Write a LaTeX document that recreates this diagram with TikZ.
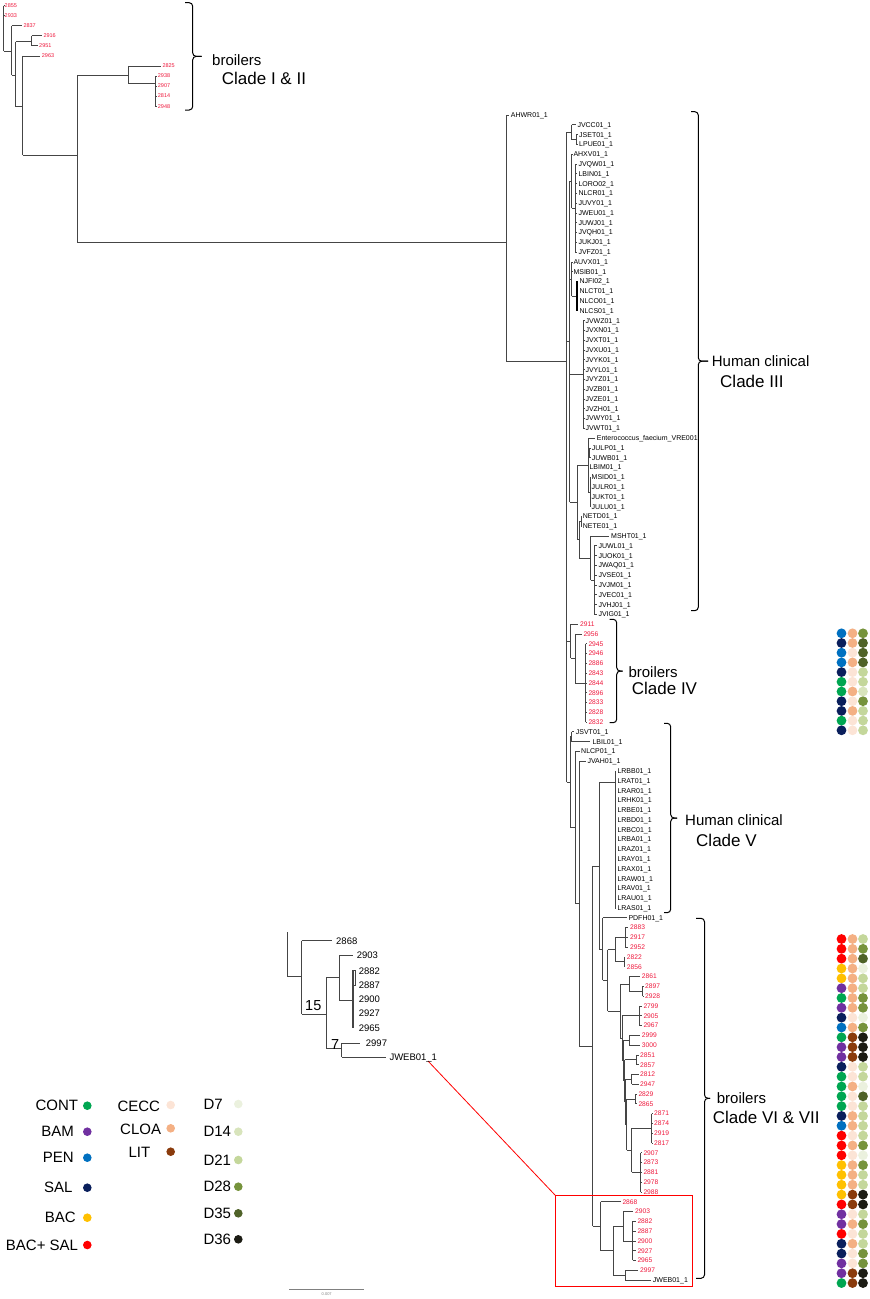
\documentclass[tikz,border=0pt]{standalone}
\usepackage{fontspec}
\setmainfont{Liberation Sans}
\definecolor{labred}{RGB}{238,24,60}
\definecolor{trc}{HTML}{454545}
\definecolor{cCONT}{HTML}{00A651}
\definecolor{cBAM}{HTML}{7030A0}
\definecolor{cPEN}{HTML}{0070C0}
\definecolor{cSAL}{HTML}{0A1F5C}
\definecolor{cBAC}{HTML}{FFC000}
\definecolor{cRED}{HTML}{FF0000}
\definecolor{cCECC}{HTML}{FCE4D6}
\definecolor{cCLOA}{HTML}{F4B084}
\definecolor{cLIT}{HTML}{8A3B0C}
\definecolor{cDa}{HTML}{EBF1DE}
\definecolor{cDb}{HTML}{D8E4BC}
\definecolor{cDc}{HTML}{C4D79B}
\definecolor{cDd}{HTML}{76933C}
\definecolor{cDe}{HTML}{4F6228}
\definecolor{cDf}{HTML}{1C1C14}
\newcommand\fsz[1]{\fontsize{#1}{#1}\selectfont}
\newcommand\comb[4]{\draw[tr] (#1,{yl(#2)}) -- (#1,{yl(#3)});
  \foreach \j in {#2,...,#3}{\draw[tr] (#1,{yl(\j)}) -- (#4,{yl(\j)});}}
\newcommand\blabs[3]{\foreach \t [count=\k from #2] in {#3} {\node[bk] at (#1,{yl(\k)}) {\t\_1};}}
\newcommand\rlabs[3]{\foreach \t [count=\k from #2] in {#3} {\node[rd] at (#1,{yl(\k)}) {\t};}}
% bracket: x, top, bottom, hook end x, tick end x
\newcommand\brk[5]{\draw[brkst] (#4,#2) -- (#1,#2) -- (#1,{(#2+#3)/2}) -- (#5,{(#2+#3)/2});
  \draw[brkst] (#4,#3) -- (#1,#3) -- (#1,{(#2+#3)/2}) -- (#5,{(#2+#3)/2});}
\begin{document}
\begin{tikzpicture}[x=1pt,y=-1pt,
  declare function={yl(\i)=115+9.79*\i; tl(\i)=5.7+10.03*\i;},
  tr/.style={draw=trc,line width=0.65pt},
  bk/.style={font=\fsz{7}, anchor=base west, inner sep=0pt, yshift=-2.5pt},
  rd/.style={font=\fsz{6.7}, text=labred, anchor=base west, inner sep=0pt, yshift=-2.4pt},
  rs/.style={font=\fsz{5.5}, text=labred, anchor=base west, inner sep=0pt, yshift=-2pt},
  cl1/.style={font=\fsz{15}, anchor=base west, inner sep=0pt},
  cl2/.style={font=\fsz{17}, anchor=base west, inner sep=0pt},
  brkst/.style={draw=black, line width=1pt, rounded corners=3.5pt},
  lg/.style={font=\fsz{15}, inner sep=0pt},
  ins/.style={draw=trc, line width=0.9pt},
  il/.style={font=\fsz{9.5}, anchor=base west, inner sep=0pt, yshift=-3.4pt},
  dot/.style={radius=4.9}
]
\useasboundingbox (0,0) rectangle (870,1299);

% ---------------- top-left tree (Clade I & II)
\draw[tr] (3.5,{tl(0)}) -- (3.5,51);
\draw[tr] (3.5,{tl(0)}) -- (4,{tl(0)});
\draw[tr] (3.5,{tl(1)}) -- (4,{tl(1)});
\draw[tr] (3.5,51) -- (11.7,51);
\draw[tr] (11.7,{tl(2)}) -- (11.7,75);
\draw[tr] (11.7,{tl(2)}) -- (21.7,{tl(2)});
\draw[tr] (11.7,75) -- (15.7,75);
\draw[tr] (15.7,41.7) -- (15.7,106.7);
\draw[tr] (15.7,41.7) -- (31.7,41.7);
\draw[tr] (31.7,{tl(3)}) -- (31.7,{tl(4)});
\draw[tr] (31.7,{tl(3)}) -- (41.7,{tl(3)});
\draw[tr] (31.7,{tl(4)}) -- (37.7,{tl(4)});
\draw[tr] (15.7,106.7) -- (22.7,106.7);
\draw[tr] (22.7,{tl(5)}) -- (22.7,155);
\draw[tr] (22.7,{tl(5)}) -- (40,{tl(5)});
\draw[tr] (22.7,155) -- (77.3,155);
\draw[tr] (77.3,75) -- (77.3,242);
\draw[tr] (77.3,75) -- (128.3,75);
\draw[tr] (128.3,{tl(6)}) -- (128.3,83.3);
\draw[tr] (128.3,{tl(6)}) -- (161,{tl(6)});
\draw[tr] (128.3,83.3) -- (155.3,83.3);
\draw[tr] (155.3,{tl(7)}) -- (155.3,{tl(10)});
\foreach \j in {7,...,10} {\draw[tr] (155.3,{tl(\j)}) -- (156.5,{tl(\j)});}
\node[rs] at (4.5,{tl(0)}) {2855};
\node[rs] at (4.5,{tl(1)}) {2933};
\node[rs] at (23.3,{tl(2)}) {2837};
\node[rs] at (43.3,{tl(3)}) {2916};
\node[rs] at (39,{tl(4)}) {2951};
\node[rs] at (41.7,{tl(5)}) {2963};
\node[rs] at (162.3,{tl(6)}) {2825};
\foreach \t [count=\k from 7] in {2938,2907,2814,2948} {\node[rs] at (157.7,{tl(\k)}) {\t};}
\brk{192.7}{2.7}{110}{185}{201.7}
\node[cl1] at (212,65) {broilers};
\node[cl2] at (221.7,84) {Clade I \& II};

% ---------------- root / backbone
\draw[tr] (506,{yl(0)}) -- (506,361);
\draw[tr] (506,{yl(0)}) -- (509,{yl(0)});
\node[bk] at (510.7,{yl(0)}) {AHWR01\_1};
\draw[tr] (77.3,242) -- (506,242);
\draw[tr] (506,361) -- (566.7,361);
\draw[tr] (566.7,132.1) -- (566.7,782.1);

% ---------------- Clade III
\draw[tr] (566.7,132.1) -- (571.7,132.1);
\draw[tr] (571.7,{yl(1)}) -- (571.7,139.5);
\draw[tr] (571.7,{yl(1)}) -- (576,{yl(1)});
\draw[tr] (571.7,139.5) -- (576,139.5);
\comb{576}{2}{3}{577.5}
\node[bk] at (577.3,{yl(1)}) {JVCC01\_1};
\blabs{579}{2}{JSET01,LPUE01}
\draw[tr] (569.5,181.1) -- (569.5,502.3);
\draw[tr] (566.7,341.7) -- (569.5,341.7);
\draw[tr] (569.5,181.1) -- (571.7,181.1);
\draw[tr] (571.7,{yl(4)}) -- (571.7,208);
\draw[tr] (571.7,{yl(4)}) -- (572.5,{yl(4)});
\draw[tr] (571.7,208) -- (575,208);
\comb{575}{5}{14}{577}
\node[bk] at (573.3,{yl(4)}) {AHXV01\_1};
\blabs{578.3}{5}{JVQW01,LBIN01,LORO02,NLCR01,JUVY01,JWEU01,JUWJ01,JVQH01,JUKJ01,JVFZ01}
\draw[tr] (569.5,279) -- (571.7,279);
\draw[tr] (571.7,{yl(15)}) -- (571.7,296.1);
\draw[tr] (571.7,{yl(15)}) -- (572.5,{yl(15)});
\draw[tr] (571.7,{yl(16)}) -- (572.5,{yl(16)});
\draw[tr] (571.7,296.1) -- (577,296.1);
\begin{scope}[tr/.style={draw=black,line width=1.1pt}]
\comb{577}{17}{20}{578}
\end{scope}
\blabs{573.3}{15}{AUVX01,MSIB01}
\blabs{579.3}{17}{NJFI02,NLCT01,NLCO01,NLCS01}
\draw[tr] (569.5,374.4) -- (583.3,374.4);
\comb{583.3}{21}{32}{584.5}
\blabs{585.3}{21}{JVWZ01,JVXN01,JVXT01,JVXU01,JVYK01,JVYL01,JVYZ01,JVZB01,JVZE01,JVZH01,JVWY01,JVWT01}
\draw[tr] (569.5,502.3) -- (577,502.3);
\draw[tr] (577,465) -- (577,539.7);
\draw[tr] (577,465) -- (588.3,465);
\draw[tr] (588.3,{yl(33)}) -- (588.3,491.9);
\draw[tr] (588.3,{yl(33)}) -- (595,{yl(33)});
\draw[tr] (588.3,452.8) -- (589.5,452.8);
\comb{589.5}{34}{35}{590.5}
\draw[tr] (588.3,{yl(36)}) -- (588.8,{yl(36)});
\draw[tr] (588.3,491.9) -- (590,491.9);
\comb{590}{37}{40}{590.5}
\node[bk] at (596.7,{yl(33)}) {Enterococcus\_faecium\_VRE001};
\blabs{591.7}{34}{JULP01,JUWB01}
\node[bk] at (589.3,{yl(36)}) {LBIM01\_1};
\blabs{591.5}{37}{MSID01,JULR01,JUKT01,JULU01}
\draw[tr] (577,539.7) -- (579,539.7);
\draw[tr] (579,521.3) -- (579,558);
\draw[tr] (579,521.3) -- (581,521.3);
\comb{581}{41}{42}{581.5}
\blabs{582.7}{41}{NETD01,NETE01}
\draw[tr] (579,558) -- (590.7,558);
\draw[tr] (590.7,{yl(43)}) -- (590.7,580);
\draw[tr] (590.7,{yl(43)}) -- (609,{yl(43)});
\draw[tr] (590.7,580) -- (594.3,580);
\comb{594.3}{44}{51}{596.5}
\node[bk] at (611,{yl(43)}) {MSHT01\_1};
\blabs{598.3}{44}{JUWL01,JUOK01,JWAQ01,JVSE01,JVJM01,JVEC01,JVHJ01,JVIG01}
\brk{698.3}{111.7}{610.7}{691}{708}
\node[cl1] at (711.7,366) {Human clinical};
\node[cl2] at (720,387) {Clade III};

% ---------------- Clade IV
\draw[tr] (566.7,641.3) -- (570.7,641.3);
\draw[tr] (570.7,{yl(52)}) -- (570.7,658.4);
\draw[tr] (570.7,{yl(52)}) -- (578,{yl(52)});
\draw[tr] (570.7,658.4) -- (575,658.4);
\draw[tr] (575,{yl(53)}) -- (575,682.9);
\draw[tr] (575,{yl(53)}) -- (581.5,{yl(53)});
\draw[tr] (575,682.9) -- (585.7,682.9);
\comb{585.7}{54}{62}{586.5}
\node[rd] at (580,{yl(52)}) {2911};
\node[rd] at (583.3,{yl(53)}) {2956};
\rlabs{588.3}{54}{2945,2946,2886,2843,2844,2896,2833,2828,2832}
\brk{616.7}{619.3}{722.7}{609.5}{622.5}
\node[cl1] at (628.3,677) {broilers};
\node[cl2] at (631.7,694) {Clade IV};

% ---------------- Clade V and lower backbone
\draw[tr] (566.7,782.1) -- (570,782.1);
\draw[tr] (570,736.7) -- (570,827.5);
\draw[tr] (570,736.7) -- (571.5,736.7);
\draw[tr] (571.5,{yl(63)}) -- (571.5,{yl(64)});
\draw[tr] (571.5,{yl(63)}) -- (574,{yl(63)});
\draw[tr] (571.5,{yl(64)}) -- (590,{yl(64)});
\draw[tr] (570,827.5) -- (575,827.5);
\draw[tr] (575,{yl(65)}) -- (575,903.6);
\draw[tr] (575,{yl(65)}) -- (579.5,{yl(65)});
\draw[tr] (575,903.6) -- (579.3,903.6);
\draw[tr] (579.3,{yl(66)}) -- (579.3,1046);
\draw[tr] (579.3,{yl(66)}) -- (585.5,{yl(66)});
\draw[tr] (579.3,1046) -- (592.7,1046);
\draw[tr] (592.7,865.9) -- (592.7,1226.1);
\draw[tr] (592.7,865.9) -- (599.3,865.9);
\draw[tr] (599.3,782.7) -- (599.3,949);
\draw[tr] (599.3,782.7) -- (615,782.7);
\comb{615}{67}{81}{616}
\node[bk] at (575.7,{yl(63)}) {JSVT01\_1};
\node[bk] at (592.3,{yl(64)}) {LBIL01\_1};
\node[bk] at (581,{yl(65)}) {NLCP01\_1};
\node[bk] at (587.3,{yl(66)}) {JVAH01\_1};
\blabs{617.3}{67}{LRBB01,LRAT01,LRAR01,LRHK01,LRBE01,LRBD01,LRBC01,LRBA01,LRAZ01,LRAY01,LRAX01,LRAW01,LRAV01,LRAU01,LRAS01}
\brk{670.7}{723.3}{912.7}{664}{677}
\node[cl1] at (685,825) {Human clinical};
\node[cl2] at (696,846.7) {Clade V};

% ---------------- Clade VI & VII
\draw[tr] (599.3,949) -- (602.7,949);
\draw[tr] (602.7,{yl(82)}) -- (602.7,980.3);
\draw[tr] (602.7,{yl(82)}) -- (626.5,{yl(82)});
\node[bk] at (628.3,{yl(82)}) {PDFH01\_1};
\draw[tr] (602.7,980.3) -- (607.5,980.3);
\draw[tr] (607.5,949.6) -- (607.5,1011);
\draw[tr] (607.5,949.6) -- (615,949.6);
\draw[tr] (615,937.4) -- (615,961.8);
\draw[tr] (615,937.4) -- (625,937.4);
\comb{625}{83}{85}{628}
\draw[tr] (615,961.8) -- (624.3,961.8);
\comb{624.3}{86}{87}{625}
\draw[tr] (607.5,1011) -- (620,1011);
\draw[tr] (620,983.9) -- (620,1038.1);
\draw[tr] (620,983.9) -- (629.3,983.9);
\draw[tr] (629.3,{yl(88)}) -- (629.3,991.2);
\draw[tr] (629.3,{yl(88)}) -- (640,{yl(88)});
\draw[tr] (629.3,991.2) -- (642.7,991.2);
\comb{642.7}{89}{90}{643.3}
\draw[tr] (620,1038.1) -- (622,1038.1);
\draw[tr] (622,1015.7) -- (622,1060.5);
\draw[tr] (622,1015.7) -- (639.3,1015.7);
\comb{639.3}{91}{93}{641.5}
\draw[tr] (622,1060.5) -- (623.5,1060.5);
\draw[tr] (623.5,1040.2) -- (623.5,1080.8);
\draw[tr] (623.5,1040.2) -- (629.3,1040.2);
\comb{629.3}{94}{95}{640}
\draw[tr] (623.5,1080.8) -- (624.5,1080.8);
\draw[tr] (624.5,1059.7) -- (624.5,1102);
\draw[tr] (624.5,1059.7) -- (636,1059.7);
\comb{636}{96}{97}{638.5}
\draw[tr] (624.5,1102) -- (625.5,1102);
\draw[tr] (625.5,1079.3) -- (625.5,1124.6);
\draw[tr] (625.5,1079.3) -- (631.7,1079.3);
\comb{631.7}{98}{99}{638.5}
\draw[tr] (625.5,1124.6) -- (626.5,1124.6);
\draw[tr] (626.5,1098.9) -- (626.5,1150.3);
\draw[tr] (626.5,1098.9) -- (635,1098.9);
\comb{635}{100}{101}{636.7}
\draw[tr] (626.5,1150.3) -- (631.7,1150.3);
\draw[tr] (631.7,1128.3) -- (631.7,1172.3);
\draw[tr] (631.7,1128.3) -- (651.7,1128.3);
\comb{651.7}{102}{105}{652.5}
\draw[tr] (631.7,1172.3) -- (640.7,1172.3);
\comb{640.7}{106}{110}{641.5}
\draw[tr] (592.7,1226.1) -- (600.7,1226.1);
\draw[tr] (600.7,{yl(111)}) -- (600.7,1250.5);
\draw[tr] (600.7,{yl(111)}) -- (620.5,{yl(111)});
\draw[tr] (600.7,1250.5) -- (613.3,1250.5);
\draw[tr] (613.3,1226.2) -- (613.3,1275.1);
\draw[tr] (613.3,1226.2) -- (623.3,1226.2);
\draw[tr] (623.3,{yl(112)}) -- (623.3,1240.9);
\draw[tr] (623.3,{yl(112)}) -- (633,{yl(112)});
\draw[tr] (623.3,1240.9) -- (632.7,1240.9);
\comb{632.7}{113}{117}{635.5}
\draw[tr] (613.3,1275.1) -- (625,1275.1);
\draw[tr] (625,{yl(118)}) -- (625,{yl(119)});
\draw[tr] (625,{yl(118)}) -- (638,{yl(118)});
\draw[tr] (625,{yl(119)}) -- (650.5,{yl(119)});
\rlabs{630}{83}{2883,2917,2952}
\rlabs{626.7}{86}{2822,2856}
\node[rd] at (641.7,{yl(88)}) {2861};
\rlabs{645}{89}{2897,2928}
\rlabs{643.3}{91}{2799,2905,2967}
\rlabs{641.7}{94}{2999,3000}
\rlabs{640}{96}{2851,2857,2812,2947}
\rlabs{638.3}{100}{2829,2865}
\rlabs{654}{102}{2871,2874,2919,2817}
\rlabs{643.3}{106}{2907,2873,2881,2978,2988}
\node[rd] at (622.3,{yl(111)}) {2868};
\node[rd] at (635,{yl(112)}) {2903};
\rlabs{637.3}{113}{2882,2887,2900,2927,2965}
\node[rd] at (640,{yl(118)}) {2997};
\node[bk] at (652.7,{yl(119)}) {JWEB01\_1};
\brk{704.5}{918.3}{1278.3}{696}{710}
\node[cl1] at (716.7,1103.3) {broilers};
\node[cl2] at (712.7,1123.3) {Clade VI \& VII};

% ---------------- red box and zoom line
\draw[red, line width=0.8pt] (555,1195) rectangle (692.7,1286.7);
\coordinate (boxNW) at (555,1195);
\coordinate (insEnd) at (428,1061);
\draw[red, line width=0.8pt] (insEnd) -- (boxNW);

% ---------------- inset
\draw[ins] (287.7,932.3) -- (287.7,976.7) -- (301.7,976.7);
\draw[ins] (301.7,940.7) -- (301.7,1014.3);
\draw[ins] (301.7,940.7) -- (331.7,940.7);
\draw[ins] (301.7,1014.3) -- (326,1014.3);
\draw[ins] (326,977.3) -- (326,1048.3);
\draw[ins] (326,977.3) -- (339,977.3);
\draw[ins] (339,955.3) -- (339,1000);
\draw[ins] (339,955.3) -- (353.3,955.3);
\draw[ins] (339,1000) -- (352.7,1000);
\draw[draw=trc, line width=1.6pt] (352.7,970) -- (352.7,1028);
\draw[ins] (352.7,970.7) -- (355.5,970.7);
\draw[ins] (352.7,985) -- (355.5,985);
\draw[ins] (355.5,970.7) -- (355.5,985);
\draw[ins] (326,1048.3) -- (341.7,1048.3);
\draw[ins] (341.7,1043) -- (341.7,1057);
\draw[ins] (341.7,1043) -- (360,1043);
\draw[ins] (341.7,1057) -- (386,1057);
\node[il] at (336,941) {2868};
\node[il] at (356.7,955.3) {2903};
\foreach \t/\y in {2882/970.7,2887/985,2900/999.3,2927/1013.5,2965/1028} {\node[il] at (358.7,\y) {\t};}
\node[il] at (365.7,1043) {2997};
\node[il] at (389.3,1057) {JWEB01\_1};
\node[font=\fsz{14.5}, anchor=base west, inner sep=0pt] at (305,1010.7) {15};
\node[font=\fsz{14.5}, anchor=base west, inner sep=0pt] at (331,1049.3) {7};

% ---------------- dots
\foreach \a/\b/\c [count=\k from 0] in {cPEN/cCLOA/cDd, cSAL/cCLOA/cDe, cPEN/cCECC/cDe, cPEN/cCLOA/cDe, cSAL/cCECC/cDc, cCONT/cCECC/cDc, cCONT/cCLOA/cDb, cSAL/cCECC/cDd, cSAL/cCLOA/cDc, cCONT/cCECC/cDc, cSAL/cCECC/cDc}
{ \fill[\a] (841.5,{633.3+9.7*\k}) circle[dot];
  \fill[\b] (852.5,{633.3+9.7*\k}) circle[dot];
  \fill[\c] (863,{633.3+9.7*\k}) circle[dot]; }
\foreach \a/\b/\c [count=\k from 0] in {cRED/cCLOA/cDc, cRED/cCLOA/cDd, cRED/cCLOA/cDe, cBAC/cCLOA/cDa, cBAC/cCLOA/cDc, cBAM/cCLOA/cDc, cCONT/cCLOA/cDd, cBAM/cCLOA/cDd, cSAL/cCECC/cDa, cPEN/cCLOA/cDd, cCONT/cLIT/cDf, cBAM/cLIT/cDf, cBAM/cLIT/cDf, cSAL/cCECC/cDc, cCONT/cCECC/cDc, cCONT/cCLOA/cDa, cCONT/cCECC/cDe, cCONT/cCECC/cDc, cSAL/cCLOA/cDc, cPEN/cCLOA/cDc, cRED/cCECC/cDc, cRED/cCLOA/cDd, cRED/cCECC/cDa, cBAC/cCLOA/cDd, cBAC/cCLOA/cDc, cBAC/cCLOA/cDc, cBAC/cLIT/cDf, cRED/cLIT/cDf, cBAM/cCECC/cDc, cBAM/cCLOA/cDd, cRED/cCECC/cDc, cSAL/cCLOA/cDc, cSAL/cCECC/cDd, cBAM/cCECC/cDd, cBAM/cLIT/cDf, cCONT/cLIT/cDf}
{ \fill[\a] (841.5,{939+9.83*\k}) circle[dot];
  \fill[\b] (852.5,{939+9.83*\k}) circle[dot];
  \fill[\c] (863,{939+9.83*\k}) circle[dot]; }

% ---------------- legend
\foreach \t/\c/\x/\y in {CONT/cCONT/78.3/1105.7, BAM/cBAM/74/1131.7, PEN/cPEN/74/1157.7, SAL/cSAL/72.7/1187.7, BAC/cBAC/76/1217.7, BAC+ SAL/cRED/78.3/1245}
{ \node[lg, anchor=east] at (\x,\y) {\t}; \fill[\c] (87.3,\y) circle[radius=4.3]; }
\foreach \t/\c/\x/\y/\d in {CECC/cCECC/117.3/1106/1105, CLOA/cCLOA/120/1129/1128.3, LIT/cLIT/128.3/1152.7/1151.7}
{ \node[lg, anchor=west] at (\x,\y) {\t}; \fill[\c] (170.7,\d) circle[radius=4.3]; }
\foreach \t/\c/\y in {D7/cDa/1104, D14/cDb/1131.7, D21/cDc/1160, D28/cDd/1186.7, D35/cDe/1213.3, D36/cDf/1239.3}
{ \node[lg, anchor=west] at (203.3,\y) {\t}; \fill[\c] (238.3,\y) circle[radius=4.3]; }

% ---------------- scale bar
\draw[draw=gray, line width=0.8pt] (289.3,1289) -- (364.3,1289);
\node[font=\fsz{4}, inner sep=0pt, text=gray] at (326.7,1294.5) {0.007};
\end{tikzpicture}
\end{document}
